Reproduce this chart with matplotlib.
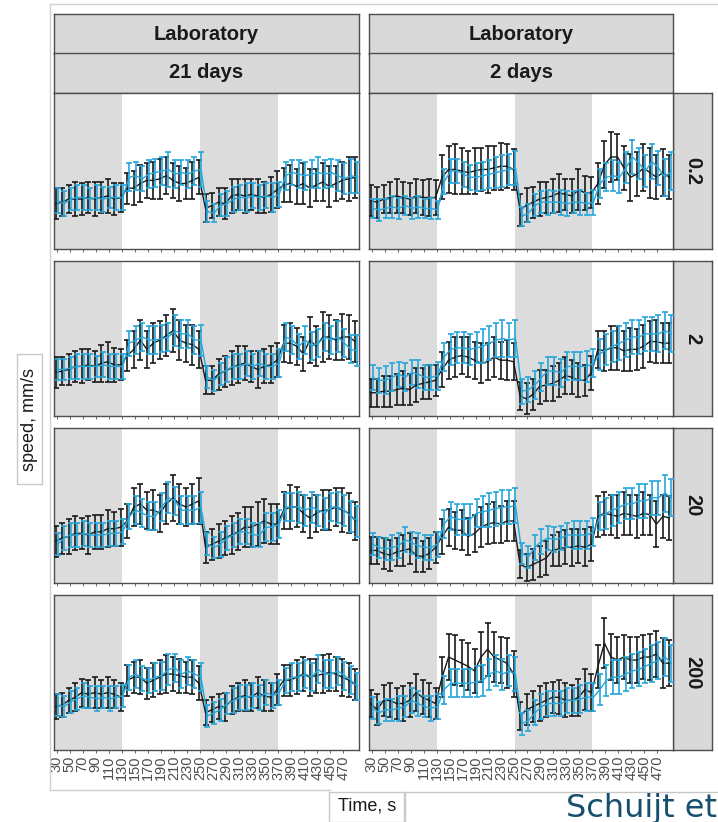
import matplotlib
matplotlib.use("Agg")
import matplotlib.pyplot as plt
from matplotlib.patches import Rectangle

plt.rcParams['font.family'] = ['Liberation Sans', 'DejaVu Sans']

# ---------------------------------------------------------------- data
times = list(range(30, 491, 10))
tick_labels = list(range(30, 471, 20))
columns = ["21 days", "2 days"]
rows = ["0.2", "2", "20", "200"]
phase_edges = [130, 250, 370]

# 21 days, 0.2
black_21_02 = [2.9, 3.0, 3.2, 3.2, 3.2, 3.3, 3.2, 3.3, 3.4, 3.2, 3.3,
               3.9, 3.9, 4.2, 4.4, 4.4, 4.5, 4.7, 4.4, 4.2, 4.2, 4.4, 4.6,
               2.6, 2.8, 3.0, 2.9, 3.4, 3.5, 3.4, 3.5, 3.4, 3.3, 3.5, 3.8,
               4.1, 4.2, 4.0, 4.2, 3.9, 4.1, 4.3, 4.0, 4.2, 4.4, 4.5, 4.6]
black_21_02_err = [1.0, 0.9, 0.9, 1.1, 1.0, 1.0, 1.1, 1.0, 1.1, 1.0, 0.9,
                   1.0, 1.1, 1.2, 1.1, 1.2, 1.3, 1.2, 1.1, 1.1, 1.0, 1.2, 1.1,
                   0.9, 0.8, 0.9, 1.0, 1.1, 1.0, 1.1, 1.0, 1.1, 1.0, 1.1, 1.2,
                   1.1, 1.2, 1.1, 1.3, 1.2, 1.0, 1.2, 1.3, 1.1, 1.2, 1.4, 1.3]
blue_21_02 = [3.1, 2.9, 3.2, 3.3, 3.3, 3.2, 3.3, 3.2, 3.3, 3.3, 3.3,
              4.6, 4.7, 4.5, 4.8, 4.9, 5.0, 5.1, 4.8, 4.9, 4.8, 5.0, 5.1,
              2.4, 2.3, 2.8, 2.9, 3.2, 3.3, 3.3, 3.4, 3.3, 3.4, 3.3, 3.5,
              4.7, 4.9, 4.8, 4.7, 4.8, 4.9, 4.8, 4.9, 4.7, 4.5, 4.7, 4.6]
blue_21_02_err = [0.8, 0.8, 0.7, 0.8, 0.8, 0.7, 0.8, 0.8, 0.7, 0.8, 0.8,
                  0.9, 0.9, 0.8, 0.9, 0.9, 0.9, 1.1, 0.9, 0.8, 0.9, 0.9, 1.1,
                  0.7, 0.6, 0.7, 0.8, 0.8, 0.8, 0.9, 0.8, 0.8, 0.8, 0.9, 0.8,
                  0.9, 0.8, 0.9, 0.9, 0.9, 1.0, 0.9, 0.9, 1.0, 1.0, 1.1, 1.0]

# 2 days, 0.2
black_2_02 = [3.1, 3.0, 3.2, 3.3, 3.4, 3.3, 3.2, 3.4, 3.3, 3.3, 3.3,
              4.6, 5.1, 5.1, 5.0, 4.9, 5.0, 5.1, 5.1, 5.2, 5.3, 5.3, 5.1,
              2.5, 2.8, 3.0, 3.2, 3.3, 3.4, 3.6, 3.5, 3.4, 3.8, 3.6, 3.6,
              4.2, 5.4, 5.9, 5.9, 5.2, 4.6, 4.8, 5.2, 4.9, 4.6, 4.9, 4.6]
black_2_02_err = [1.0, 1.0, 0.9, 1.0, 1.1, 1.0, 1.0, 1.1, 1.1, 1.2, 1.1,
                  1.4, 1.5, 1.6, 1.5, 1.4, 1.5, 1.4, 1.5, 1.4, 1.5, 1.4, 1.3,
                  1.0, 1.1, 1.0, 1.1, 1.0, 1.1, 1.2, 1.0, 1.1, 1.3, 1.1, 1.0,
                  1.3, 1.5, 1.6, 1.5, 1.4, 1.5, 1.4, 1.5, 1.6, 1.4, 1.5, 1.4]
blue_2_02 = [2.6, 2.5, 2.6, 2.7, 2.6, 2.8, 2.6, 2.7, 2.6, 2.6, 2.5,
             4.3, 5.0, 5.0, 4.8, 4.6, 4.6, 4.7, 4.8, 4.9, 5.0, 5.1, 5.2,
             2.1, 2.3, 2.8, 3.0, 3.0, 3.0, 3.0, 2.9, 3.0, 3.0, 2.9, 3.0,
             4.2, 4.6, 4.7, 4.6, 5.2, 5.9, 5.5, 5.0, 5.6, 5.2, 4.6, 5.0]
blue_2_02_err = [0.6, 0.7, 0.6, 0.7, 0.7, 0.6, 0.7, 0.7, 0.6, 0.7, 0.6,
                 0.8, 0.8, 0.8, 0.8, 0.8, 0.9, 0.9, 0.9, 1.0, 1.0, 1.0, 1.1,
                 0.6, 0.6, 0.7, 0.7, 0.8, 0.7, 0.8, 0.8, 0.7, 0.8, 0.7, 0.8,
                 0.9, 0.9, 1.0, 1.0, 1.0, 1.1, 1.0, 1.0, 1.1, 1.1, 1.2, 1.2]

# 21 days, 2
black_21_2 = [2.8, 2.9, 3.0, 3.2, 3.2, 3.3, 3.2, 3.4, 3.5, 3.3, 3.3,
              3.9, 4.3, 4.9, 4.3, 4.7, 4.9, 5.2, 5.5, 4.9, 4.7, 4.6, 4.3,
              2.3, 2.3, 2.7, 2.9, 3.1, 3.3, 3.4, 3.2, 3.0, 3.2, 3.3, 3.6,
              4.7, 4.7, 4.5, 4.0, 4.9, 4.5, 5.1, 5.1, 4.9, 5.1, 5.1, 4.8]
black_21_2_err = [1.0, 0.9, 1.0, 1.0, 1.1, 1.0, 1.0, 1.2, 1.3, 1.1, 1.0,
                  1.0, 1.2, 1.3, 1.2, 1.3, 1.2, 1.3, 1.4, 1.3, 1.2, 1.3, 1.2,
                  0.9, 0.9, 1.0, 1.0, 1.1, 1.2, 1.1, 1.0, 1.2, 1.1, 1.2, 1.1,
                  1.2, 1.3, 1.2, 1.1, 1.5, 1.3, 1.6, 1.4, 1.3, 1.5, 1.4, 1.3]
blue_21_2 = [3.0, 3.0, 3.1, 3.2, 3.2, 3.2, 3.2, 3.3, 3.2, 3.2, 3.2,
             4.7, 4.9, 5.1, 4.9, 4.9, 5.0, 5.1, 5.5, 5.3, 5.3, 4.9, 4.9,
             2.5, 2.3, 2.7, 3.0, 3.2, 3.2, 3.4, 3.2, 3.4, 3.2, 3.2, 3.4,
             5.1, 4.9, 4.5, 4.9, 4.5, 4.7, 5.1, 4.9, 5.1, 4.7, 4.3, 4.2]
blue_21_2_err = [0.7, 0.7, 0.7, 0.8, 0.8, 0.8, 0.7, 0.8, 0.8, 0.8, 0.8,
                 0.8, 0.9, 0.9, 0.9, 0.9, 0.9, 0.9, 1.0, 0.9, 0.9, 0.9, 1.0,
                 0.7, 0.7, 0.7, 0.8, 0.8, 0.8, 0.8, 0.8, 0.8, 0.8, 0.8, 0.9,
                 0.9, 0.9, 0.8, 0.9, 0.9, 0.9, 0.9, 0.9, 1.0, 0.9, 0.9, 1.0]

# 2 days, 2
black_2_2 = [1.5, 1.5, 1.6, 1.6, 1.7, 1.8, 1.7, 2.0, 2.1, 2.2, 2.3,
             3.0, 3.6, 3.8, 3.9, 3.8, 3.6, 3.4, 3.5, 3.8, 3.6, 3.6, 3.5,
             1.3, 1.1, 1.4, 1.9, 2.0, 2.1, 2.3, 2.6, 2.5, 2.3, 2.3, 2.8,
             4.3, 4.2, 4.4, 4.4, 4.2, 4.3, 4.3, 4.5, 4.8, 4.8, 4.7, 4.7]
black_2_2_err = [0.9, 0.9, 1.0, 1.0, 1.0, 1.1, 1.0, 1.1, 1.0, 1.1, 1.0,
                 1.1, 1.2, 1.3, 1.2, 1.3, 1.2, 1.3, 1.2, 1.3, 1.2, 1.3, 1.2,
                 0.9, 1.0, 1.0, 1.1, 1.0, 1.1, 1.1, 1.2, 1.1, 1.1, 1.0, 1.1,
                 1.2, 1.3, 1.4, 1.4, 1.3, 1.4, 1.3, 1.4, 1.3, 1.4, 1.3, 1.3]
blue_2_2 = [2.5, 2.3, 2.3, 2.5, 2.7, 2.5, 2.8, 2.7, 2.5, 2.5, 2.6,
            3.8, 4.3, 4.4, 4.4, 4.3, 4.4, 4.5, 4.7, 4.9, 5.0, 4.9, 5.0,
            1.6, 1.7, 2.0, 2.5, 2.9, 2.9, 2.8, 3.2, 3.2, 3.2, 3.2, 3.4,
            4.0, 4.3, 4.5, 4.7, 4.9, 5.1, 5.1, 5.3, 5.3, 5.3, 5.5, 5.3]
blue_2_2_err = [0.8, 0.8, 0.9, 0.9, 0.8, 0.9, 0.8, 0.9, 0.8, 0.8, 0.9,
                0.9, 1.0, 1.0, 1.0, 1.0, 1.0, 1.1, 1.1, 1.1, 1.2, 1.1, 1.2,
                0.8, 0.8, 0.9, 0.9, 0.9, 0.9, 0.9, 0.9, 0.9, 0.9, 1.0, 0.9,
                1.0, 1.0, 1.0, 1.1, 1.1, 1.1, 1.1, 1.1, 1.1, 1.2, 1.2, 1.2]

# 21 days, 20
black_21_20 = [2.7, 2.9, 3.0, 3.2, 3.2, 3.1, 3.3, 3.3, 3.5, 3.5, 3.6,
               4.0, 4.9, 5.1, 4.7, 4.7, 4.5, 5.1, 5.5, 5.1, 4.9, 5.1, 5.3,
               2.3, 2.5, 2.7, 2.9, 3.1, 3.3, 3.6, 3.6, 3.8, 4.0, 3.8, 3.8,
               4.7, 4.9, 4.9, 4.5, 4.2, 4.5, 4.7, 4.7, 4.9, 4.7, 4.5, 4.0]
black_21_20_err = [1.0, 1.0, 1.1, 1.1, 1.0, 1.2, 1.1, 1.1, 1.2, 1.1, 1.2,
                   1.1, 1.2, 1.3, 1.2, 1.3, 1.2, 1.3, 1.5, 1.3, 1.2, 1.3, 1.5,
                   1.0, 1.0, 1.1, 1.1, 1.2, 1.2, 1.3, 1.3, 1.4, 1.4, 1.3, 1.3,
                   1.2, 1.4, 1.3, 1.2, 1.3, 1.2, 1.3, 1.3, 1.2, 1.4, 1.3, 1.2]
blue_21_20 = [2.5, 2.9, 3.1, 3.1, 3.2, 3.1, 3.1, 3.1, 3.2, 3.2, 3.3,
              4.3, 4.7, 4.5, 4.3, 4.3, 4.9, 5.5, 5.3, 4.7, 4.7, 4.7, 4.9,
              2.5, 2.3, 2.5, 2.9, 3.1, 3.3, 3.3, 3.1, 3.1, 3.6, 3.6, 3.8,
              4.9, 4.9, 4.9, 4.7, 4.9, 4.7, 4.5, 4.9, 4.9, 4.7, 4.3, 4.0]
blue_21_20_err = [0.7, 0.8, 0.8, 0.8, 0.8, 0.8, 0.8, 0.8, 0.8, 0.8, 0.8,
                  0.8, 0.9, 0.9, 0.9, 0.9, 0.9, 1.0, 0.9, 0.9, 0.9, 0.9, 1.0,
                  0.7, 0.7, 0.8, 0.8, 0.8, 0.8, 0.8, 0.8, 0.8, 0.9, 0.9, 0.9,
                  0.9, 0.9, 1.0, 1.0, 1.0, 1.0, 1.0, 0.9, 1.0, 1.0, 1.0, 1.0]

# 2 days, 20
black_2_20 = [2.1, 2.1, 1.9, 1.8, 2.0, 2.1, 2.2, 1.8, 1.7, 1.9, 2.3,
              3.0, 3.6, 3.4, 3.4, 3.0, 3.2, 3.6, 3.8, 3.9, 3.8, 4.0, 4.0,
              1.2, 1.0, 1.2, 1.4, 1.6, 2.1, 2.2, 2.3, 2.3, 2.4, 2.3, 2.5,
              4.3, 4.5, 4.4, 4.3, 4.5, 4.4, 4.3, 4.5, 4.4, 3.8, 4.3, 4.2]
black_2_20_err = [0.9, 0.9, 1.0, 1.0, 0.9, 1.0, 1.0, 1.1, 1.0, 1.0, 1.0,
                  1.1, 1.2, 1.2, 1.3, 1.2, 1.2, 1.3, 1.3, 1.3, 1.2, 1.3, 1.3,
                  0.9, 0.9, 1.0, 1.0, 1.1, 1.0, 1.1, 1.1, 1.2, 1.1, 1.2, 1.1,
                  1.3, 1.4, 1.3, 1.4, 1.4, 1.3, 1.4, 1.4, 1.3, 1.5, 1.4, 1.4]
blue_2_20 = [2.5, 2.3, 2.2, 2.3, 2.4, 2.8, 2.6, 2.4, 2.3, 2.3, 2.5,
             3.8, 4.3, 4.1, 4.1, 4.1, 4.5, 4.6, 4.7, 4.8, 4.9, 4.9, 5.0,
             1.9, 1.7, 2.3, 2.7, 2.9, 2.8, 2.9, 3.1, 3.1, 3.1, 3.1, 3.3,
             4.3, 4.5, 4.7, 4.9, 5.1, 5.1, 5.3, 5.3, 5.5, 5.5, 5.8, 5.5]
blue_2_20_err = [0.7, 0.7, 0.7, 0.8, 0.8, 0.8, 0.7, 0.8, 0.8, 0.8, 0.8,
                 0.9, 0.9, 1.0, 1.0, 1.0, 0.9, 1.0, 1.1, 1.1, 1.1, 1.1, 1.1,
                 0.7, 0.7, 0.8, 0.8, 0.8, 0.8, 0.8, 0.8, 0.9, 0.9, 0.9, 0.9,
                 0.9, 1.0, 1.0, 1.0, 1.0, 1.0, 1.1, 1.1, 1.1, 1.1, 1.2, 1.2]

# 21 days, 200
black_21_200 = [2.8, 2.9, 3.2, 3.4, 3.7, 3.6, 3.7, 3.6, 3.7, 3.6, 3.4,
                4.5, 4.7, 4.7, 4.3, 4.5, 4.7, 4.9, 4.9, 4.8, 4.7, 4.7, 4.3,
                2.4, 2.6, 2.8, 2.8, 3.2, 3.4, 3.5, 3.4, 3.7, 3.5, 3.4, 3.9,
                4.5, 4.5, 4.7, 4.9, 4.7, 4.8, 4.9, 5.0, 4.9, 4.7, 4.5, 4.2]
black_21_200_err = [0.8, 0.8, 0.8, 0.9, 0.9, 0.9, 1.0, 0.9, 1.0, 0.9, 0.9,
                    1.0, 1.0, 1.1, 1.0, 1.1, 1.1, 1.2, 1.1, 1.1, 1.0, 1.1, 1.1,
                    0.8, 0.8, 0.8, 0.9, 0.9, 0.9, 1.0, 0.9, 1.0, 1.0, 0.9, 1.0,
                    1.0, 1.0, 1.1, 1.1, 1.2, 1.1, 1.2, 1.2, 1.1, 1.2, 1.1, 1.0]
blue_21_200 = [2.9, 2.8, 3.1, 3.3, 3.5, 3.4, 3.3, 3.4, 3.3, 3.4, 3.5,
               4.7, 4.9, 4.6, 4.5, 4.7, 4.8, 5.2, 5.3, 4.9, 5.1, 4.9, 4.7,
               2.2, 2.4, 2.6, 3.0, 3.2, 3.4, 3.4, 3.5, 3.4, 3.7, 3.5, 3.7,
               4.5, 4.7, 4.7, 4.9, 4.7, 5.2, 4.9, 4.9, 5.1, 4.8, 4.5, 4.1]
blue_21_200_err = [0.7, 0.7, 0.7, 0.7, 0.8, 0.7, 0.8, 0.7, 0.8, 0.7, 0.7,
                   0.8, 0.9, 0.8, 0.8, 0.9, 0.9, 1.0, 0.9, 0.9, 0.9, 0.9, 0.9,
                   0.7, 0.7, 0.7, 0.7, 0.8, 0.8, 0.8, 0.8, 0.8, 0.8, 0.8, 0.8,
                   0.8, 0.9, 0.9, 0.9, 0.9, 0.9, 0.9, 0.9, 0.9, 0.9, 0.9, 0.9]

# 2 days, 200
black_2_200 = [3.0, 2.6, 3.2, 3.2, 3.0, 3.0, 3.2, 3.7, 3.4, 3.2, 3.0,
               4.7, 6.0, 5.8, 5.6, 5.4, 5.1, 6.0, 6.5, 6.0, 5.8, 5.6, 4.9,
               2.2, 2.6, 2.8, 3.0, 3.2, 3.4, 3.4, 3.2, 3.2, 3.4, 3.9, 3.7,
               5.4, 6.9, 6.0, 5.8, 6.0, 5.8, 5.8, 6.0, 6.0, 6.2, 5.6, 5.6]
black_2_200_err = [0.9, 1.0, 1.0, 1.1, 1.0, 1.1, 1.1, 1.2, 1.1, 1.1, 1.0,
                   1.3, 1.5, 1.6, 1.5, 1.5, 1.4, 1.6, 1.7, 1.6, 1.5, 1.6, 1.5,
                   0.9, 1.0, 1.0, 1.1, 1.1, 1.0, 1.1, 1.1, 1.0, 1.2, 1.3, 1.2,
                   1.4, 1.6, 1.5, 1.5, 1.4, 1.5, 1.5, 1.4, 1.5, 1.5, 1.6, 1.5]
blue_2_200 = [2.7, 2.4, 2.6, 2.6, 2.7, 2.8, 3.2, 3.0, 2.8, 2.7, 2.8,
              3.9, 4.3, 4.3, 4.3, 4.3, 4.4, 4.5, 4.9, 5.1, 4.9, 5.1, 4.9,
              1.7, 1.9, 2.4, 2.8, 3.0, 3.0, 3.0, 3.2, 3.2, 3.3, 3.4, 3.4,
              3.9, 4.5, 4.7, 4.7, 4.9, 5.1, 5.2, 5.4, 5.6, 5.8, 6.0, 5.6]
blue_2_200_err = [0.7, 0.7, 0.7, 0.7, 0.8, 0.7, 0.8, 0.8, 0.7, 0.8, 0.8,
                  0.9, 0.9, 0.9, 0.9, 0.9, 1.0, 1.0, 1.0, 1.0, 1.0, 1.0, 1.1,
                  0.7, 0.7, 0.8, 0.8, 0.8, 0.8, 0.8, 0.8, 0.8, 0.9, 0.9, 0.9,
                  1.0, 1.0, 1.1, 1.1, 1.1, 1.1, 1.1, 1.1, 1.2, 1.2, 1.2, 1.2]

panels = {
    ("21 days", "0.2"): (black_21_02, black_21_02_err, blue_21_02, blue_21_02_err),
    ("2 days", "0.2"): (black_2_02, black_2_02_err, blue_2_02, blue_2_02_err),
    ("21 days", "2"): (black_21_2, black_21_2_err, blue_21_2, blue_21_2_err),
    ("2 days", "2"): (black_2_2, black_2_2_err, blue_2_2, blue_2_2_err),
    ("21 days", "20"): (black_21_20, black_21_20_err, blue_21_20, blue_21_20_err),
    ("2 days", "20"): (black_2_20, black_2_20_err, blue_2_20, blue_2_20_err),
    ("21 days", "200"): (black_21_200, black_21_200_err, blue_21_200, blue_21_200_err),
    ("2 days", "200"): (black_2_200, black_2_200_err, blue_2_200, blue_2_200_err),
}

# ---------------------------------------------------------------- layout
W, H = 718, 822
BLACK = "#1a1a1a"
BLUE = "#26a6da"
SHADE = "#dcdcdc"
STRIP = "#d9d9d9"
EDGE = "#4d4d4d"

fig = plt.figure(figsize=(W / 100, H / 100), dpi=100)
fig.patch.set_facecolor("white")


def box(x0, y0, x1, y1):
    return [x0 / W, 1 - y1 / H, (x1 - x0) / W, (y1 - y0) / H]


def strip(x0, y0, x1, y1, text, rot=0):
    ax = fig.add_axes(box(x0, y0, x1, y1))
    ax.set_facecolor(STRIP)
    ax.set_xticks([])
    ax.set_yticks([])
    for s in ax.spines.values():
        s.set_color(EDGE)
        s.set_linewidth(1.0)
    ax.text(0.5, 0.5, text, transform=ax.transAxes, ha="center", va="center",
            rotation=rot, fontsize=14.5, fontweight="bold", color="#1a1a1a")
    return ax


col_x = [(54, 359), (369, 673)]
row_y = [(93, 249), (261, 416), (428, 583), (595, 750)]

# column strips
for (x0, x1), name in zip(col_x, columns):
    strip(x0, 14, x1, 54, "Laboratory")
    strip(x0, 53, x1, 93, name)

# row strips
for (y0, y1), name in zip(row_y, rows):
    strip(673, y0, 712, y1, name, rot=270)

for ci, ((x0, x1), cname) in enumerate(zip(col_x, columns)):
    for ri, ((y0, y1), rname) in enumerate(zip(row_y, rows)):
        ax = fig.add_axes(box(x0, y0, x1, y1))
        ax.set_xlim(26, 494)
        ax.set_ylim(0, 10)
        ax.axvspan(ax.get_xlim()[0], phase_edges[0], color=SHADE, lw=0, zorder=0)
        ax.axvspan(phase_edges[1], phase_edges[2], color=SHADE, lw=0, zorder=0)
        bm, be, um, ue = panels[(cname, rname)]
        tb = [t - 1.5 for t in times]
        tu = [t + 1.5 for t in times]
        ax.errorbar(tb, bm, yerr=be, color=BLACK, lw=1.0, elinewidth=1.2,
                    capsize=2.4, capthick=1.2, zorder=3)
        ax.errorbar(tu, um, yerr=ue, color=BLUE, lw=1.0, elinewidth=1.2,
                    capsize=2.4, capthick=1.2, zorder=4)
        ax.set_yticks([])
        ax.set_xticks(tick_labels)
        if ri == len(rows) - 1:
            ax.set_xticklabels([str(t) for t in tick_labels], rotation=90,
                               fontsize=10.5, color="#4d4d4d")
        else:
            ax.set_xticklabels([])
        ax.tick_params(axis="x", length=2.5, width=0.6, color="#4d4d4d", pad=1.5)
        for s in ax.spines.values():
            s.set_color(EDGE)
            s.set_linewidth(1.0)

# outer frame lines
fig.add_artist(plt.Line2D([50 / W, 50 / W], [1 - 790 / H, 1 - 4 / H],
                          color="#d0d0d0", lw=1.0))
fig.add_artist(plt.Line2D([50 / W, 1.0], [1 - 4 / H, 1 - 4 / H],
                          color="#d0d0d0", lw=1.0))
fig.add_artist(plt.Line2D([50 / W, 330 / W], [1 - 790 / H, 1 - 790 / H],
                          color="#d0d0d0", lw=1.0))

# axis titles in small framed boxes
fig.add_artist(Rectangle((17 / W, 1 - 484 / H), 25 / W, 130 / H,
                         transform=fig.transFigure, fill=False,
                         edgecolor="#c8c8c8", lw=1.0))
fig.text(29.5 / W, 1 - 419 / H, "speed, mm/s", rotation=90, ha="center",
         va="center", fontsize=13, color="#1a1a1a")

fig.add_artist(Rectangle((329 / W, 1 - 822 / H), 76 / W, 30 / H,
                         transform=fig.transFigure, fill=False,
                         edgecolor="#c8c8c8", lw=1.0))
fig.text(367 / W, 1 - 806 / H, "Time, s", ha="center", va="center",
         fontsize=13, color="#1a1a1a")

fig.add_artist(Rectangle((404 / W, 1 - 830 / H), 330 / W, 38 / H,
                         transform=fig.transFigure, fill=False,
                         edgecolor="#c8c8c8", lw=1.0))
fig.text(717 / W, 1 - 808 / H, "Schuijt et", ha="right", va="center",
         fontsize=23, color="#17506f", family="DejaVu Sans")

fig.savefig("out.png", dpi=100, facecolor="white")
